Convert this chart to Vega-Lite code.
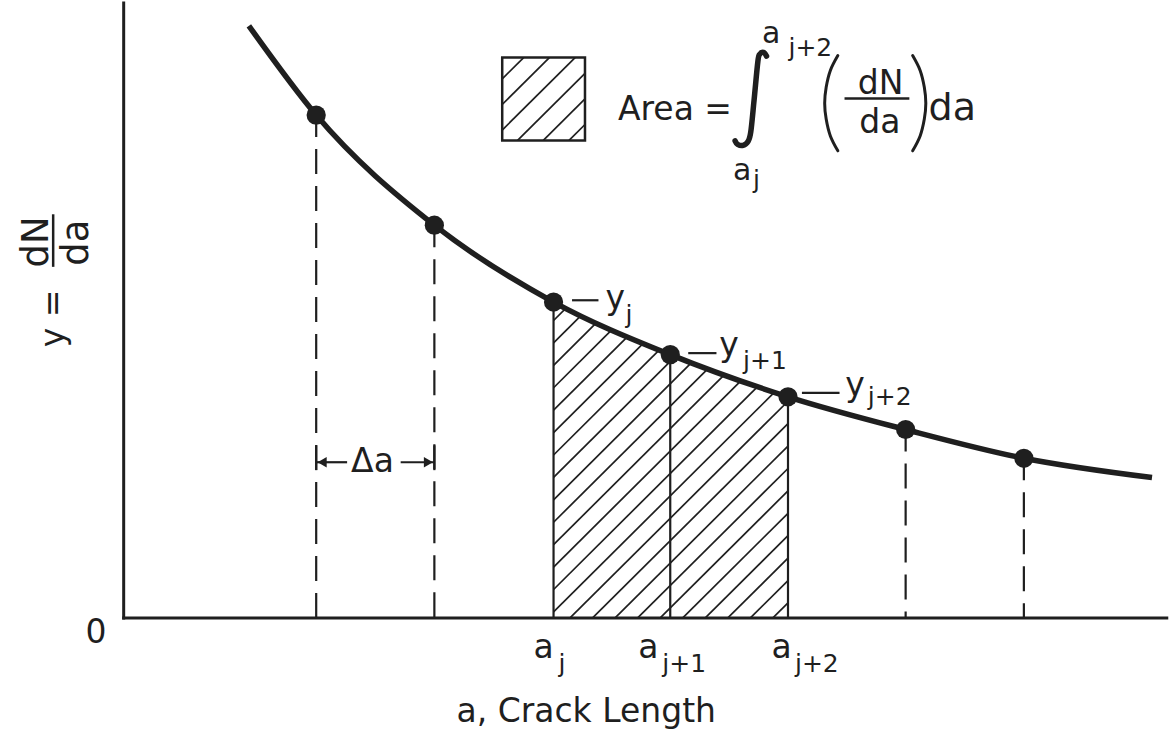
{
  "$schema": "https://vega.github.io/schema/vega-lite/v6.json",
  "width": 1169,
  "height": 732,
  "autosize": {"type": "fit", "contains": "padding"},
  "padding": 0,
  "background": "white",
  "config": {"view": {"stroke": null}},
  "datasets": {
    "segments": [
      {"kind": "hatch", "x": 3.6433, "y": 2.999, "x2": 3.7485, "y2": 3.1235},
      {"kind": "hatch", "x": 3.6433, "y": 2.773, "x2": 3.8773, "y2": 3.0498},
      {"kind": "hatch", "x": 3.6433, "y": 2.547, "x2": 4.0071, "y2": 2.9774},
      {"kind": "hatch", "x": 3.6433, "y": 2.321, "x2": 4.1381, "y2": 2.9063},
      {"kind": "hatch", "x": 3.6433, "y": 2.095, "x2": 4.2701, "y2": 2.8365},
      {"kind": "hatch", "x": 3.6433, "y": 1.869, "x2": 4.4032, "y2": 2.768},
      {"kind": "hatch", "x": 3.6433, "y": 1.643, "x2": 4.5376, "y2": 2.701},
      {"kind": "hatch", "x": 3.6433, "y": 1.417, "x2": 4.6732, "y2": 2.6354},
      {"kind": "hatch", "x": 3.6433, "y": 1.191, "x2": 4.8099, "y2": 2.5711},
      {"kind": "hatch", "x": 3.6433, "y": 0.965, "x2": 4.948, "y2": 2.5085},
      {"kind": "hatch", "x": 3.6433, "y": 0.739, "x2": 5.0874, "y2": 2.4474},
      {"kind": "hatch", "x": 3.6433, "y": 0.513, "x2": 5.2281, "y2": 2.3879},
      {"kind": "hatch", "x": 3.6433, "y": 0.287, "x2": 5.3702, "y2": 2.33},
      {"kind": "hatch", "x": 3.6433, "y": 0.061, "x2": 5.5137, "y2": 2.2737},
      {"kind": "hatch", "x": 3.7827, "y": 0, "x2": 5.6298, "y2": 2.185},
      {"kind": "hatch", "x": 3.9738, "y": 0, "x2": 5.6298, "y2": 1.959},
      {"kind": "hatch", "x": 4.1648, "y": 0, "x2": 5.6298, "y2": 1.733},
      {"kind": "hatch", "x": 4.3559, "y": 0, "x2": 5.6298, "y2": 1.507},
      {"kind": "hatch", "x": 4.5469, "y": 0, "x2": 5.6298, "y2": 1.281},
      {"kind": "hatch", "x": 4.738, "y": 0, "x2": 5.6298, "y2": 1.055},
      {"kind": "hatch", "x": 4.929, "y": 0, "x2": 5.6298, "y2": 0.829},
      {"kind": "hatch", "x": 5.1201, "y": 0, "x2": 5.6298, "y2": 0.603},
      {"kind": "hatch", "x": 5.3111, "y": 0, "x2": 5.6298, "y2": 0.377},
      {"kind": "hatch", "x": 5.5021, "y": 0, "x2": 5.6298, "y2": 0.151},
      {"kind": "hatch", "x": 3.208, "y": 5.435, "x2": 3.3897, "y2": 5.65},
      {"kind": "hatch", "x": 3.208, "y": 5.177, "x2": 3.6078, "y2": 5.65},
      {"kind": "hatch", "x": 3.208, "y": 4.919, "x2": 3.8259, "y2": 5.65},
      {"kind": "hatch", "x": 3.3381, "y": 4.815, "x2": 3.9095, "y2": 5.491},
      {"kind": "hatch", "x": 3.5562, "y": 4.815, "x2": 3.9095, "y2": 5.233},
      {"kind": "hatch", "x": 3.7743, "y": 4.815, "x2": 3.9095, "y2": 4.975},
      {"kind": "bound", "x": 3.643, "y": 0, "x2": 3.643, "y2": 3.185},
      {"kind": "bound", "x": 4.632, "y": 0, "x2": 4.632, "y2": 2.655},
      {"kind": "bound", "x": 5.63, "y": 0, "x2": 5.63, "y2": 2.23},
      {"kind": "bound", "x": 1.6315, "y": 1.49, "x2": 1.6315, "y2": 1.74},
      {"kind": "bound", "x": 2.633, "y": 1.49, "x2": 2.633, "y2": 1.74},
      {"kind": "bound", "x": 1.6315, "y": 1.57, "x2": 1.8935, "y2": 1.57},
      {"kind": "bound", "x": 2.3475, "y": 1.57, "x2": 2.633, "y2": 1.57},
      {"kind": "bound", "x": 3.7997, "y": 3.203, "x2": 4.0237, "y2": 3.203},
      {"kind": "bound", "x": 4.7845, "y": 2.67, "x2": 5.0237, "y2": 2.67},
      {"kind": "bound", "x": 5.7481, "y": 2.27, "x2": 6.0668, "y2": 2.27},
      {"kind": "bar", "x": 6.109, "y": 5.237, "x2": 6.6585, "y2": 5.237},
      {"kind": "bar", "x": -0.5976, "y": 4.07, "x2": -0.5976, "y2": 3.54},
      {"kind": "drop", "x": 1.6315, "y": 5.07, "x2": 1.6315, "y2": 0},
      {"kind": "drop", "x": 2.633, "y": 3.96, "x2": 2.633, "y2": 0},
      {"kind": "drop", "x": 6.627, "y": 1.9, "x2": 6.627, "y2": 0},
      {"kind": "drop", "x": 7.629, "y": 1.61, "x2": 7.629, "y2": 0},
      {"kind": "axis", "x": 0, "y": 0, "x2": 0, "y2": 6.2},
      {"kind": "axis", "x": 0, "y": 0, "x2": 8.84, "y2": 0}
    ],
    "curve": [
      {"x": 1.0609, "y": 5.97},
      {"x": 1.6315, "y": 5.07},
      {"x": 2.633, "y": 3.96},
      {"x": 3.643, "y": 3.185},
      {"x": 4.632, "y": 2.655},
      {"x": 5.63, "y": 2.23},
      {"x": 6.627, "y": 1.9},
      {"x": 7.629, "y": 1.61},
      {"x": 8.715, "y": 1.415}
    ],
    "dots": [
      {"x": 1.6315, "y": 5.07},
      {"x": 2.633, "y": 3.96},
      {"x": 3.643, "y": 3.185},
      {"x": 4.632, "y": 2.655},
      {"x": 5.63, "y": 2.23},
      {"x": 6.627, "y": 1.9},
      {"x": 7.629, "y": 1.61}
    ],
    "heads": [
      {"dir": "left", "x": 1.682, "y": 1.57},
      {"dir": "right", "x": 2.5824, "y": 1.57}
    ],
    "glyphs": [
      {"g": "int", "i": 0, "x": 5.448, "y": 5.665},
      {"g": "int", "i": 1, "x": 5.4227, "y": 5.702},
      {"g": "int", "i": 2, "x": 5.3914, "y": 5.685},
      {"g": "int", "i": 3, "x": 5.3745, "y": 5.61},
      {"g": "int", "i": 4, "x": 5.3424, "y": 5.22},
      {"g": "int", "i": 5, "x": 5.3145, "y": 4.9},
      {"g": "int", "i": 6, "x": 5.2917, "y": 4.805},
      {"g": "int", "i": 7, "x": 5.2494, "y": 4.765},
      {"g": "int", "i": 8, "x": 5.2029, "y": 4.775},
      {"g": "int", "i": 9, "x": 5.1817, "y": 4.81},
      {"g": "lp", "i": 0, "x": 6.0524, "y": 5.67},
      {"g": "lp", "i": 1, "x": 5.989, "y": 5.52},
      {"g": "lp", "i": 2, "x": 5.9535, "y": 5.35},
      {"g": "lp", "i": 3, "x": 5.9408, "y": 5.19},
      {"g": "lp", "i": 4, "x": 5.9535, "y": 5.03},
      {"g": "lp", "i": 5, "x": 5.989, "y": 4.86},
      {"g": "lp", "i": 6, "x": 6.0524, "y": 4.71},
      {"g": "rp", "i": 0, "x": 6.6864, "y": 5.67},
      {"g": "rp", "i": 1, "x": 6.7498, "y": 5.52},
      {"g": "rp", "i": 2, "x": 6.7853, "y": 5.35},
      {"g": "rp", "i": 3, "x": 6.798, "y": 5.19},
      {"g": "rp", "i": 4, "x": 6.7853, "y": 5.03},
      {"g": "rp", "i": 5, "x": 6.7498, "y": 4.86},
      {"g": "rp", "i": 6, "x": 6.6864, "y": 4.71}
    ],
    "labels": [
      {"role": "L", "x": -0.3229, "y": -0.25, "text": "0"},
      {"role": "L", "x": 2.82, "y": -1.05, "text": "a, Crack Length"},
      {"role": "L", "x": 3.4742, "y": -0.4, "text": "a"},
      {"role": "S", "x": 3.6855, "y": -0.54, "text": "j"},
      {"role": "L", "x": 4.3618, "y": -0.4, "text": "a"},
      {"role": "S", "x": 4.5647, "y": -0.54, "text": "j+1"},
      {"role": "L", "x": 5.4903, "y": -0.4, "text": "a"},
      {"role": "S", "x": 5.6889, "y": -0.54, "text": "j+2"},
      {"role": "L", "x": 4.0828, "y": 3.12, "text": "y"},
      {"role": "S", "x": 4.2519, "y": 2.972, "text": "j"},
      {"role": "L", "x": 5.0465, "y": 2.637, "text": "y"},
      {"role": "S", "x": 5.2494, "y": 2.505, "text": "j+1"},
      {"role": "L", "x": 6.1158, "y": 2.237, "text": "y"},
      {"role": "S", "x": 6.306, "y": 2.142, "text": "j+2"},
      {"role": "L", "x": 4.1885, "y": 5.02, "text": "Area ="},
      {"role": "M", "x": 5.41, "y": 5.8, "text": "a"},
      {"role": "S", "x": 5.634, "y": 5.67, "text": "j+2"},
      {"role": "M", "x": 5.1648, "y": 4.42, "text": "a"},
      {"role": "S", "x": 5.3339, "y": 4.34, "text": "j"},
      {"role": "L", "x": 6.2215, "y": 5.287, "text": "dN"},
      {"role": "L", "x": 6.2342, "y": 4.887, "text": "da"},
      {"role": "B", "x": 6.8216, "y": 5.02, "text": "da"},
      {"role": "L", "x": 1.9273, "y": 1.47, "text": "Δa"}
    ],
    "rotlabels": [
      {"role": "Y", "x": -0.503, "y": 2.73, "text": "y ="},
      {"role": "F", "x": -0.6399, "y": 3.533, "text": "dN"},
      {"role": "F", "x": -0.3043, "y": 3.55, "text": "da"}
    ]
  },
  "layer": [
    {
      "data": {"name": "segments"},
      "transform": [{"filter": "datum.kind === 'hatch'"}],
      "mark": {"type": "rule", "color": "#1f1f1f", "strokeWidth": 1.7},
      "encoding": {
        "x": {"field": "x", "type": "quantitative", "scale": {"domain": [-1.0482, 8.8335], "nice": false, "zero": false}, "axis": null},
        "y": {"field": "y", "type": "quantitative", "scale": {"domain": [-1.15, 6.17], "nice": false, "zero": false}, "axis": null},
        "x2": {"field": "x2"},
        "y2": {"field": "y2"}
      }
    },
    {
      "data": {"values": [{"x": 3.208, "x2": 3.9095, "y": 4.815, "y2": 5.65}]},
      "mark": {"type": "rect", "fillOpacity": 0, "stroke": "#1f1f1f", "strokeWidth": 2.5},
      "encoding": {
        "x": {"field": "x", "type": "quantitative", "scale": {"domain": [-1.0482, 8.8335], "nice": false, "zero": false}, "axis": null},
        "y": {"field": "y", "type": "quantitative", "scale": {"domain": [-1.15, 6.17], "nice": false, "zero": false}, "axis": null},
        "x2": {"field": "x2"},
        "y2": {"field": "y2"}
      }
    },
    {
      "data": {"name": "segments"},
      "transform": [{"filter": "datum.kind === 'bound'"}],
      "mark": {"type": "rule", "color": "#1f1f1f", "strokeWidth": 2.2},
      "encoding": {
        "x": {"field": "x", "type": "quantitative", "scale": {"domain": [-1.0482, 8.8335], "nice": false, "zero": false}, "axis": null},
        "y": {"field": "y", "type": "quantitative", "scale": {"domain": [-1.15, 6.17], "nice": false, "zero": false}, "axis": null},
        "x2": {"field": "x2"},
        "y2": {"field": "y2"}
      }
    },
    {
      "data": {"name": "segments"},
      "transform": [{"filter": "datum.kind === 'bar'"}],
      "mark": {"type": "rule", "color": "#1f1f1f", "strokeWidth": 2.5},
      "encoding": {
        "x": {"field": "x", "type": "quantitative", "scale": {"domain": [-1.0482, 8.8335], "nice": false, "zero": false}, "axis": null},
        "y": {"field": "y", "type": "quantitative", "scale": {"domain": [-1.15, 6.17], "nice": false, "zero": false}, "axis": null},
        "x2": {"field": "x2"},
        "y2": {"field": "y2"}
      }
    },
    {
      "data": {"name": "segments"},
      "transform": [{"filter": "datum.kind === 'drop'"}],
      "mark": {"type": "rule", "color": "#1f1f1f", "strokeWidth": 2.2, "strokeDash": [25, 12], "strokeDashOffset": 3},
      "encoding": {
        "x": {"field": "x", "type": "quantitative", "scale": {"domain": [-1.0482, 8.8335], "nice": false, "zero": false}, "axis": null},
        "y": {"field": "y", "type": "quantitative", "scale": {"domain": [-1.15, 6.17], "nice": false, "zero": false}, "axis": null},
        "x2": {"field": "x2"},
        "y2": {"field": "y2"}
      }
    },
    {
      "data": {"name": "segments"},
      "transform": [{"filter": "datum.kind === 'axis'"}],
      "mark": {"type": "rule", "color": "#1f1f1f", "strokeWidth": 3, "strokeCap": "square"},
      "encoding": {
        "x": {"field": "x", "type": "quantitative", "scale": {"domain": [-1.0482, 8.8335], "nice": false, "zero": false}, "axis": null},
        "y": {"field": "y", "type": "quantitative", "scale": {"domain": [-1.15, 6.17], "nice": false, "zero": false}, "axis": null},
        "x2": {"field": "x2"},
        "y2": {"field": "y2"}
      }
    },
    {
      "data": {"name": "curve"},
      "mark": {"type": "line", "color": "#1f1f1f", "strokeWidth": 5.5, "interpolate": "monotone"},
      "encoding": {
        "x": {"field": "x", "type": "quantitative", "scale": {"domain": [-1.0482, 8.8335], "nice": false, "zero": false}, "axis": null},
        "y": {"field": "y", "type": "quantitative", "scale": {"domain": [-1.15, 6.17], "nice": false, "zero": false}, "axis": null}
      }
    },
    {
      "data": {"name": "dots"},
      "mark": {"type": "point", "shape": "circle", "filled": true, "color": "#1f1f1f", "size": 370, "opacity": 1},
      "encoding": {
        "x": {"field": "x", "type": "quantitative", "scale": {"domain": [-1.0482, 8.8335], "nice": false, "zero": false}, "axis": null},
        "y": {"field": "y", "type": "quantitative", "scale": {"domain": [-1.15, 6.17], "nice": false, "zero": false}, "axis": null}
      }
    },
    {
      "data": {"name": "heads"},
      "mark": {"type": "point", "filled": true, "color": "#1f1f1f", "size": 110, "opacity": 1},
      "encoding": {
        "x": {"field": "x", "type": "quantitative", "scale": {"domain": [-1.0482, 8.8335], "nice": false, "zero": false}, "axis": null},
        "y": {"field": "y", "type": "quantitative", "scale": {"domain": [-1.15, 6.17], "nice": false, "zero": false}, "axis": null},
        "shape": {"field": "dir", "type": "nominal", "scale": {"domain": ["left", "right"], "range": ["triangle-left", "triangle-right"]}, "legend": null}
      }
    },
    {
      "data": {"name": "glyphs"},
      "transform": [{"filter": "datum.g === 'int'"}],
      "mark": {"type": "line", "color": "#1f1f1f", "strokeWidth": 5.5, "interpolate": "cardinal", "strokeCap": "round"},
      "encoding": {
        "x": {"field": "x", "type": "quantitative", "scale": {"domain": [-1.0482, 8.8335], "nice": false, "zero": false}, "axis": null},
        "y": {"field": "y", "type": "quantitative", "scale": {"domain": [-1.15, 6.17], "nice": false, "zero": false}, "axis": null},
        "order": {"field": "i", "type": "quantitative"}
      }
    },
    {
      "data": {"name": "glyphs"},
      "transform": [{"filter": "datum.g !== 'int'"}],
      "mark": {"type": "line", "color": "#1f1f1f", "strokeWidth": 3, "interpolate": "cardinal", "strokeCap": "round"},
      "encoding": {
        "x": {"field": "x", "type": "quantitative", "scale": {"domain": [-1.0482, 8.8335], "nice": false, "zero": false}, "axis": null},
        "y": {"field": "y", "type": "quantitative", "scale": {"domain": [-1.15, 6.17], "nice": false, "zero": false}, "axis": null},
        "detail": {"field": "g", "type": "nominal"},
        "order": {"field": "i", "type": "quantitative"}
      }
    },
    {
      "data": {"name": "labels"},
      "transform": [{"filter": "datum.role === 'L'"}],
      "mark": {"type": "text", "align": "left", "baseline": "alphabetic", "font": "DejaVu Sans", "fontSize": 33, "color": "#1f1f1f"},
      "encoding": {
        "x": {"field": "x", "type": "quantitative", "scale": {"domain": [-1.0482, 8.8335], "nice": false, "zero": false}, "axis": null},
        "y": {"field": "y", "type": "quantitative", "scale": {"domain": [-1.15, 6.17], "nice": false, "zero": false}, "axis": null},
        "text": {"field": "text", "type": "nominal"}
      }
    },
    {
      "data": {"name": "labels"},
      "transform": [{"filter": "datum.role === 'S'"}],
      "mark": {"type": "text", "align": "left", "baseline": "alphabetic", "font": "DejaVu Sans", "fontSize": 25, "color": "#1f1f1f"},
      "encoding": {
        "x": {"field": "x", "type": "quantitative", "scale": {"domain": [-1.0482, 8.8335], "nice": false, "zero": false}, "axis": null},
        "y": {"field": "y", "type": "quantitative", "scale": {"domain": [-1.15, 6.17], "nice": false, "zero": false}, "axis": null},
        "text": {"field": "text", "type": "nominal"}
      }
    },
    {
      "data": {"name": "labels"},
      "transform": [{"filter": "datum.role === 'M'"}],
      "mark": {"type": "text", "align": "left", "baseline": "alphabetic", "font": "DejaVu Sans", "fontSize": 30, "color": "#1f1f1f"},
      "encoding": {
        "x": {"field": "x", "type": "quantitative", "scale": {"domain": [-1.0482, 8.8335], "nice": false, "zero": false}, "axis": null},
        "y": {"field": "y", "type": "quantitative", "scale": {"domain": [-1.15, 6.17], "nice": false, "zero": false}, "axis": null},
        "text": {"field": "text", "type": "nominal"}
      }
    },
    {
      "data": {"name": "labels"},
      "transform": [{"filter": "datum.role === 'B'"}],
      "mark": {"type": "text", "align": "left", "baseline": "alphabetic", "font": "DejaVu Sans", "fontSize": 38, "color": "#1f1f1f"},
      "encoding": {
        "x": {"field": "x", "type": "quantitative", "scale": {"domain": [-1.0482, 8.8335], "nice": false, "zero": false}, "axis": null},
        "y": {"field": "y", "type": "quantitative", "scale": {"domain": [-1.15, 6.17], "nice": false, "zero": false}, "axis": null},
        "text": {"field": "text", "type": "nominal"}
      }
    },
    {
      "data": {"name": "rotlabels"},
      "transform": [{"filter": "datum.role === 'Y'"}],
      "mark": {"type": "text", "align": "left", "baseline": "alphabetic", "angle": 270, "font": "DejaVu Sans", "fontSize": 33, "color": "#1f1f1f"},
      "encoding": {
        "x": {"field": "x", "type": "quantitative", "scale": {"domain": [-1.0482, 8.8335], "nice": false, "zero": false}, "axis": null},
        "y": {"field": "y", "type": "quantitative", "scale": {"domain": [-1.15, 6.17], "nice": false, "zero": false}, "axis": null},
        "text": {"field": "text", "type": "nominal"}
      }
    },
    {
      "data": {"name": "rotlabels"},
      "transform": [{"filter": "datum.role === 'F'"}],
      "mark": {"type": "text", "align": "left", "baseline": "alphabetic", "angle": 270, "font": "DejaVu Sans", "fontSize": 37, "color": "#1f1f1f"},
      "encoding": {
        "x": {"field": "x", "type": "quantitative", "scale": {"domain": [-1.0482, 8.8335], "nice": false, "zero": false}, "axis": null},
        "y": {"field": "y", "type": "quantitative", "scale": {"domain": [-1.15, 6.17], "nice": false, "zero": false}, "axis": null},
        "text": {"field": "text", "type": "nominal"}
      }
    }
  ]
}
